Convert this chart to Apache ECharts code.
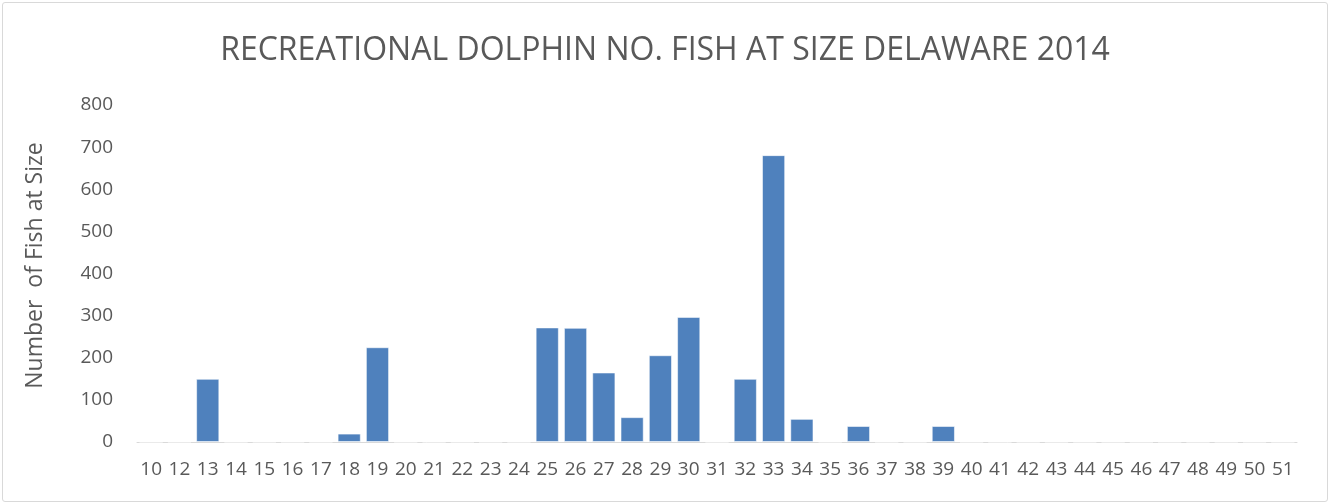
<!DOCTYPE html>
<html>
<head>
<meta charset="utf-8">
<script src="https://cdn.jsdelivr.net/npm/echarts@6/dist/echarts.min.js"></script>
<style>
html,body{margin:0;padding:0;background:#fff;}
#frame{position:absolute;left:2px;top:2px;width:1324px;height:498px;border:1px solid #d9d9d9;border-radius:3px;}
#chart{position:absolute;left:0;top:0;width:1330px;height:504px;}
</style>
</head>
<body>
<div id="frame"></div>
<div id="chart"></div>
<script>
const categories = ['10','12','13','14','15','16','17','18','19','20','21','22','23','24','25','26','27','28','29','30','31','32','33','34','35','36','37','38','39','40','41','42','43','44','45','46','47','48','49','50','51'];
const fishCounts = [0,0,150,0,0,0,0,20,225,0,0,0,0,0,272,271,165,59,206,297,0,150,681,55,0,38,0,0,38,0,0,0,0,0,0,0,0,0,0,0,0];
const yTicks = {min: 0, max: 800, interval: 100};
const titleText = 'RECREATIONAL DOLPHIN NO. FISH AT SIZE DELAWARE 2014';
const yAxisName = 'Number  of Fish at Size';

const chart = echarts.init(document.getElementById('chart'), null, {renderer: 'canvas'});
chart.setOption({
  animation: false,
  title: {
    text: titleText,
    left: 'center',
    top: 30,
    textStyle: {fontFamily: 'Open Sans', fontWeight: 'normal', fontSize: 32, color: '#595959'}
  },
  grid: {left: 137, right: 33, top: 105, bottom: 62, containLabel: false},
  xAxis: {
    type: 'category',
    data: categories,
    axisLine: {lineStyle: {color: '#d9d9d9', width: 1}},
    axisTick: {show: false},
    axisLabel: {interval: 0, color: '#595959', fontFamily: 'Open Sans', fontSize: 19, margin: 18}
  },
  yAxis: {
    type: 'value',
    min: yTicks.min, max: yTicks.max, interval: yTicks.interval,
    name: yAxisName,
    nameLocation: 'middle',
    nameGap: 90,
    nameTextStyle: {color: '#595959', fontFamily: 'Open Sans', fontSize: 23, padding: [0, 0, 0, 16]},
    axisLine: {show: false},
    axisTick: {show: false},
    splitLine: {show: false},
    axisLabel: {color: '#595959', fontFamily: 'Open Sans', fontSize: 19, margin: 24}
  },
  series: [{
    type: 'bar',
    data: fishCounts,
    barCategoryGap: '18%',
    itemStyle: {color: '#4F81BD', borderColor: 'rgba(255,255,255,0.55)', borderWidth: 1}
  }]
});
</script>
</body>
</html>
